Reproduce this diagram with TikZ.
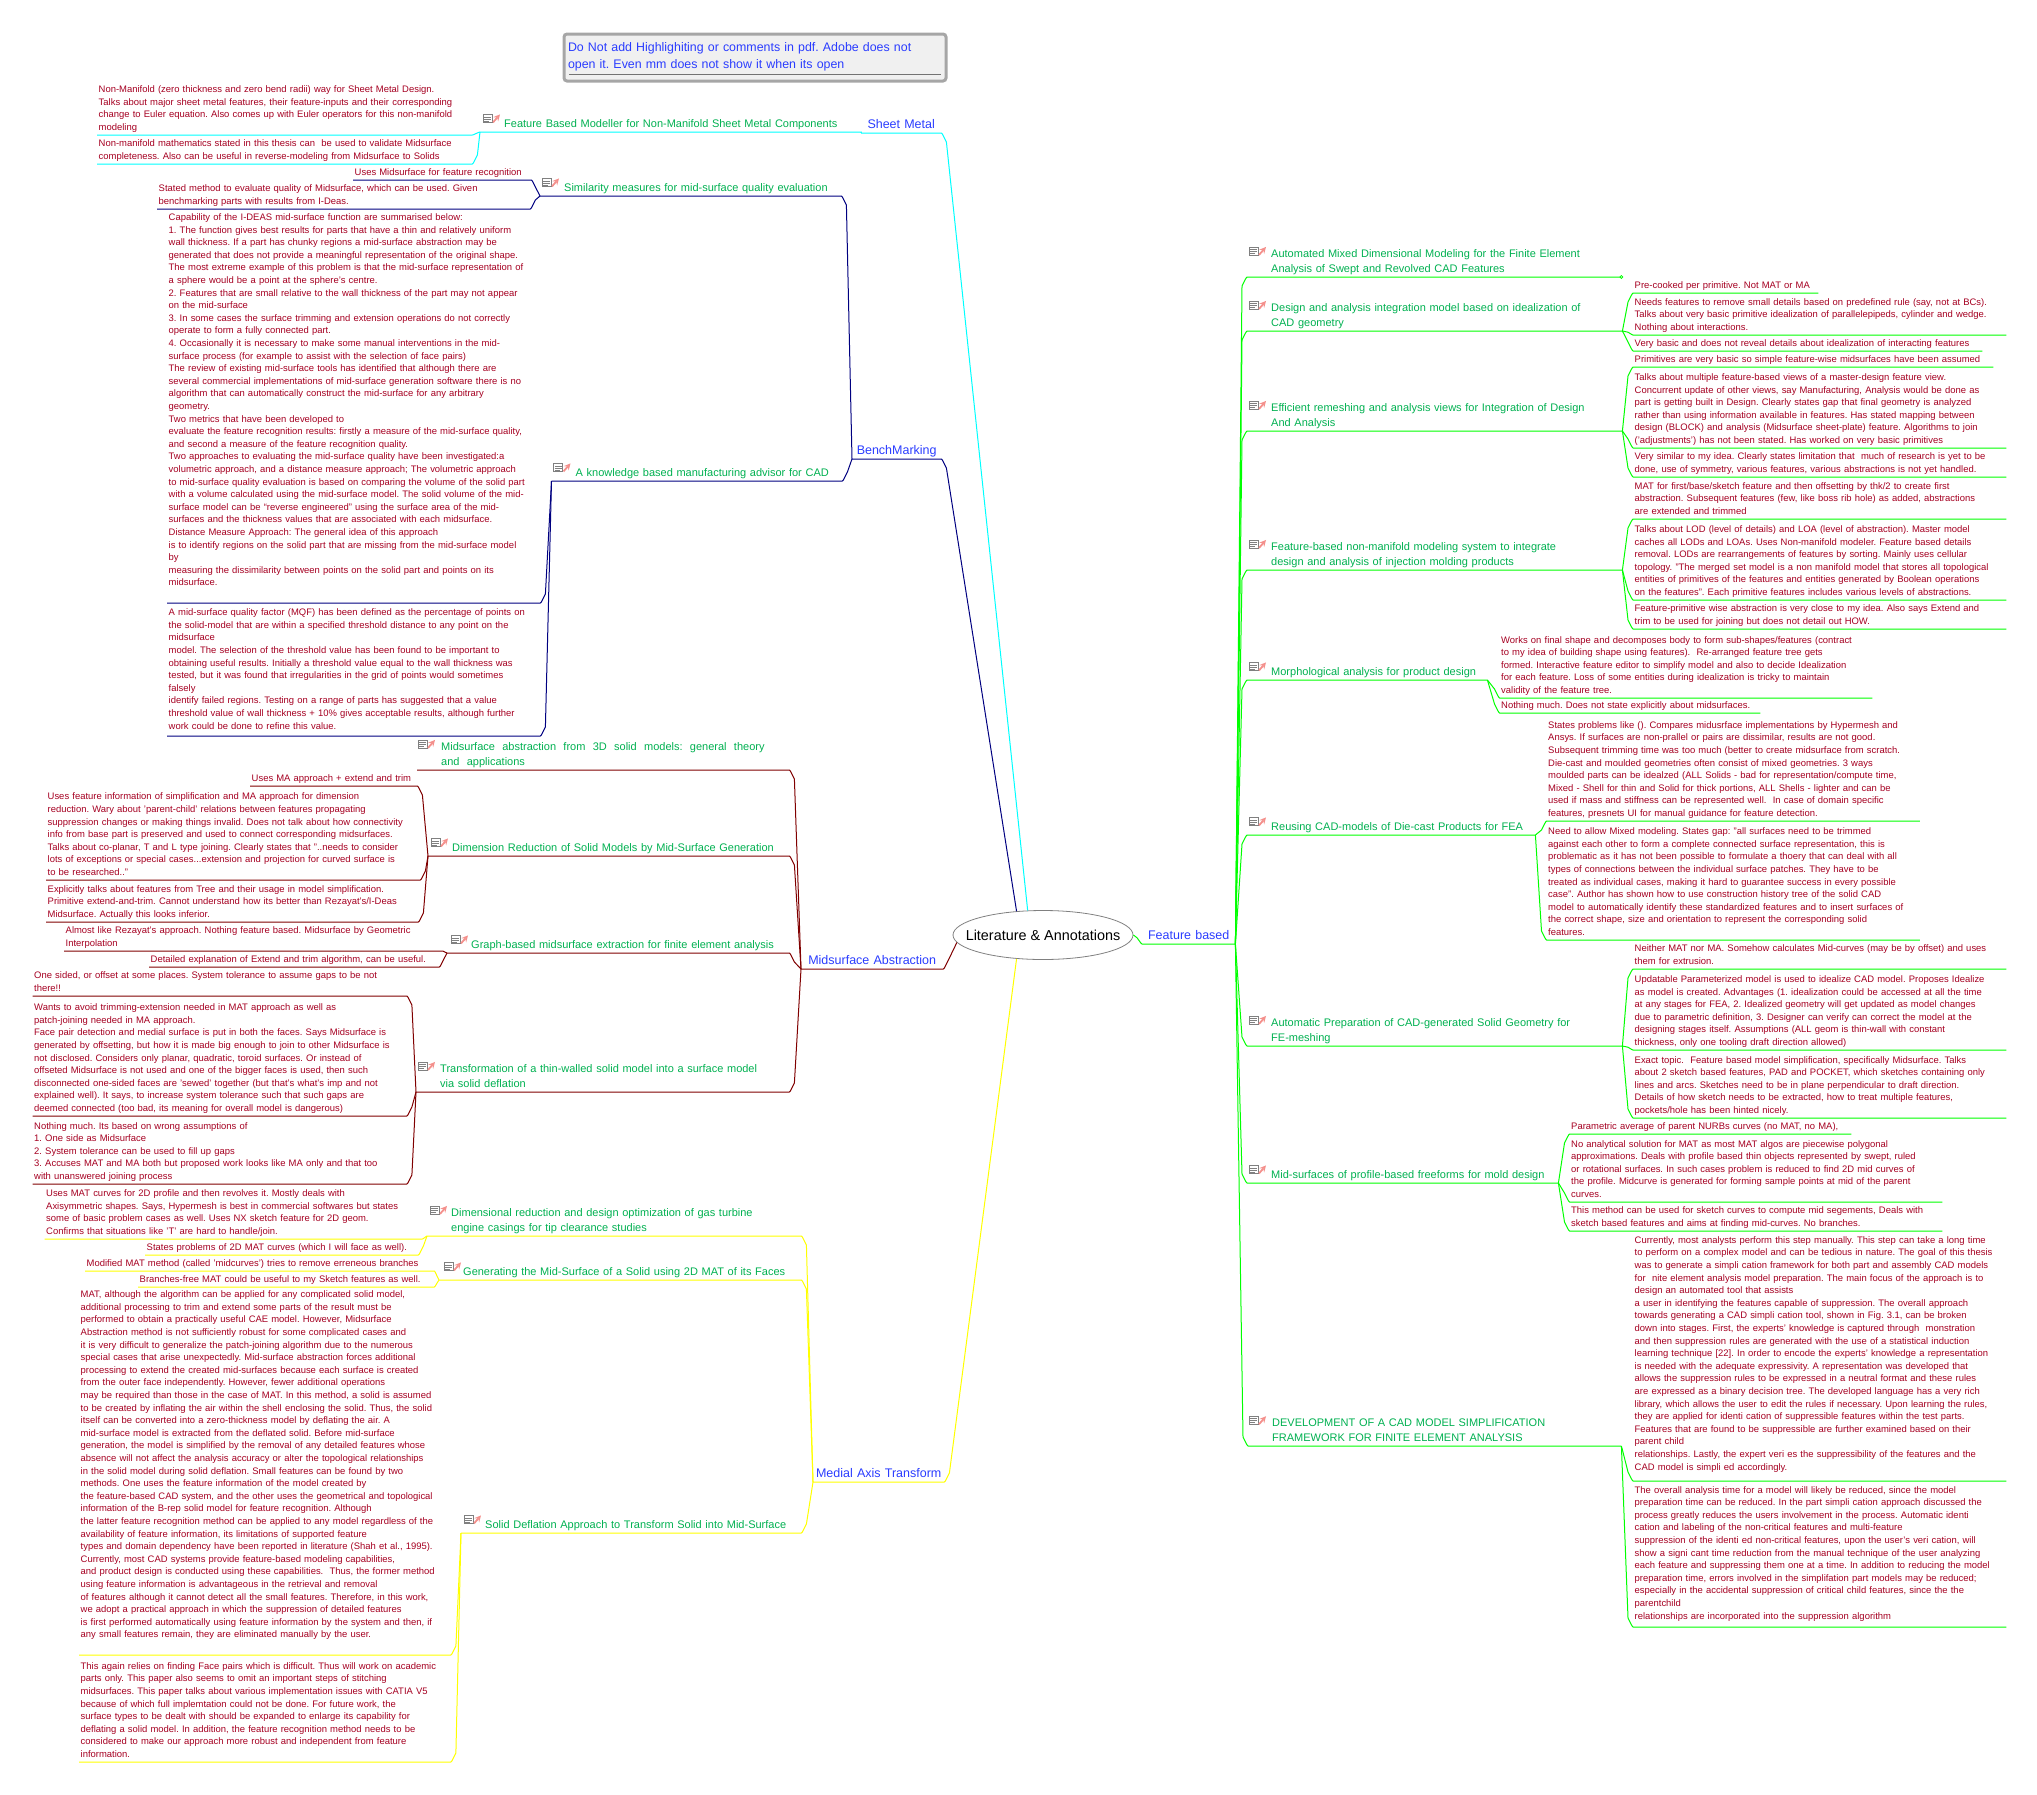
\documentclass[tikz,border=0pt]{standalone}
\usepackage{fontspec}
\setmainfont{Liberation Sans}
\frenchspacing
\usetikzlibrary{calc}
\usetikzlibrary{shapes.geometric}
\definecolor{leafred}{HTML}{A50021}
\definecolor{topicgreen}{HTML}{00B050}
\definecolor{branchblue}{HTML}{2A3CFF}
\definecolor{smline}{HTML}{00FFFF}
\definecolor{bmline}{HTML}{000080}
\definecolor{maline}{HTML}{800000}
\definecolor{mtline}{HTML}{FFFF00}
\definecolor{fbline}{HTML}{00FF00}
\definecolor{iconpink}{HTML}{F4908C}
\tikzset{
textbase/.style={anchor=south west, align=left, execute at end node=\strut},
leaf/.style={textbase, text width=#1pt-3pt, inner xsep=1.5pt, inner ysep=.5pt, text=leafred, font=\fontsize{9.45}{12.6}\selectfont},
topic/.style={textbase, text width=#1pt, inner xsep=0pt, inner ysep=-.4pt, text=topicgreen, font=\fontsize{11}{15}\selectfont, execute at begin node={\leftskip=24pt\relax}},
branch/.style={anchor=south west, align=center, text width=#1pt, inner xsep=0pt, inner ysep=0pt, text=branchblue, font=\fontsize{12.5}{15}\selectfont, execute at end node=\strut},
root/.style={ellipse, draw=gray, fill=white, line width=.8pt, inner xsep=-14pt, inner ysep=0pt, minimum width=180pt, minimum height=49pt, font=\fontsize{14.4}{16}\selectfont},
memo/.style={anchor=north west, align=left, text width=374pt, inner xsep=4pt, inner ysep=6pt, fill=black!6, draw=black!35, line width=3pt, rounded corners=3pt, minimum height=47pt, text=branchblue, font=\fontsize{12.4}{17}\selectfont},
wire/.style={line width=1pt, line join=round},
link/.style={to path={let \p1=(\tikztostart), \p2=(\tikztotarget), \n1={min(5pt,abs(\x1-\x2)*.7)*sign(\x1-\x2)}, \n2={min(9pt,abs(\y1-\y2)*.7)*sign(\y1-\y2)} in -- ({\x2+\n1},{\y2+\n2}) .. controls ({\x2+\n1*.1},\y2) .. (\tikztotarget) \tikztonodes}},
noteicon/.pic={
\draw [black!50, fill=white, line width=.7pt] (0,0) rectangle (9,8);
\draw [black!50, line width=.5pt] (1,2.5) -- (8,2.5) (1,4.5) -- (8,4.5) (1,6.5) -- (6,6.5);
\draw [iconpink, line width=1.8pt, -stealth] (10,8) -- (17,0);
}
}
\begin{document}
\begin{tikzpicture}[x=1pt,y=-1pt]
\useasboundingbox (0,0) rectangle (2037,1794);

\node [memo] (memo) at (562.5,32.5) {Do Not add Highlighiting or comments in pdf. Adobe does not\\open it. Even mm does not show it when its open\par\vspace{2pt}};
\coordinate (memoL) at (569,74);
\coordinate (memoR) at (941,74);
\draw [black!55, line width=1pt] (memoL) -- (memoR);

\node [root] (root) at (1043,935) {Literature \& Annotations};

\node [branch=80] (sheet) at (861,133) {Sheet Metal};
\node [topic=381] (smA) at (480,132) {Feature Based Modeller for Non-Manifold Sheet Metal Components};
\node [leaf=375] (smNoteA) at (97,135) {Non-Manifold (zero thickness and zero bend radii) way for Sheet Metal Design.\\Talks about major sheet metal features, their feature-inputs and their corresponding\\change to Euler equation. Also comes up with Euler operators for this non-manifold\\modeling};
\node [leaf=375] (smNoteB) at (97,164) {Non-manifold mathematics stated in this thesis can~ be used to validate Midsurface\\completeness. Also can be useful in reverse-modeling from Midsurface to Solids};

\node [branch=89] (bench) at (852,459) {BenchMarking};
\node [topic=301] (bmA) at (540,196) {Similarity measures for mid-surface quality evaluation};
\node [leaf=178] (bmNoteA) at (353,180) {Uses Midsurface for feature recognition};
\node [leaf=373] (bmNoteB) at (157,209) {Stated method to evaluate quality of Midsurface, which can be used. Given\\benchmarking parts with results from I-Deas.};
\node [topic=290.5] (bmB) at (551.5,481) {A knowledge based manufacturing advisor for CAD};
\node [leaf=373] (kbNoteA) at (167,603) {Capability of the I-DEAS mid-surface function are summarised below:\\1. The function gives best results for parts that have a thin and relatively uniform\\wall thickness. If a part has chunky regions a mid-surface abstraction may be\\generated that does not provide a meaningful representation of the original shape.\\The most extreme example of this problem is that the mid-surface representation of\\a sphere would be a point at the sphere’s centre.\\2. Features that are small relative to the wall thickness of the part may not appear\\on the mid-surface\\3. In some cases the surface trimming and extension operations do not correctly\\operate to form a fully connected part.\\4. Occasionally it is necessary to make some manual interventions in the mid-\\surface process (for example to assist with the selection of face pairs)\\The review of existing mid-surface tools has identified that although there are\\several commercial implementations of mid-surface generation software there is no\\algorithm that can automatically construct the mid-surface for any arbitrary\\geometry.\\Two metrics that have been developed to\\evaluate the feature recognition results: firstly a measure of the mid-surface quality,\\and second a measure of the feature recognition quality.\\Two approaches to evaluating the mid-surface quality have been investigated:a\\volumetric approach, and a distance measure approach; The volumetric approach\\to mid-surface quality evaluation is based on comparing the volume of the solid part\\with a volume calculated using the mid-surface model. The solid volume of the mid-\\surface model can be “reverse engineered” using the surface area of the mid-\\surfaces and the thickness values that are associated with each midsurface.\\Distance Measure Approach: The general idea of this approach\\is to identify regions on the solid part that are missing from the mid-surface model\\by\\measuring the dissimilarity between points on the solid part and points on its\\midsurface.\\~};
\node [leaf=373, inner ysep=3pt] (kbNoteB) at (167,736) {A mid-surface quality factor (MQF) has been defined as the percentage of points on\\the solid-model that are within a specified threshold distance to any point on the\\midsurface\\model. The selection of the threshold value has been found to be important to\\obtaining useful results. Initially a threshold value equal to the wall thickness was\\tested, but it was found that irregularities in the grid of points would sometimes\\falsely\\identify failed regions. Testing on a range of parts has suggested that a value\\threshold value of wall thickness + 10\% gives acceptable results, although further\\work could be done to refine this value.};

\node [branch=142] (maMain) at (801,969) {Midsurface Abstraction};
\node [topic=372] (maA) at (417,770) {Midsurface\ \ abstraction\ \ from\ \ 3D\ \ solid\ \ models:\ \ general\ \ theory\\and\ \ applications};
\node [topic=361] (maB) at (428,856) {Dimension Reduction of Solid Models by Mid-Surface Generation};
\node [leaf=167] (dmNoteA) at (250,786) {Uses MA approach + extend and trim};
\node [leaf=374] (dmNoteB) at (46,880) {Uses feature information of simplification and MA approach for dimension\\reduction. Wary about 'parent-child' relations between features propagating\\suppression changes or making things invalid. Does not talk about how connectivity\\info from base part is preserved and used to connect corresponding midsurfaces.\\Talks about co-planar, T and L type joining. Clearly states that "..needs to consider\\lots of exceptions or special cases...extension and projection for curved surface is\\to be researched.."};
\node [leaf=372] (dmNoteC) at (46,922) {Explicitly talks about features from Tree and their usage in model simplification.\\Primitive extend-and-trim. Cannot understand how its better than Rezayat's/I-Deas\\Midsurface. Actually this looks inferior.};
\node [topic=342] (maC) at (447,953) {Graph-based midsurface extraction for finite element analysis};
\node [leaf=378] (grNoteA) at (64,951) {Almost like Rezayat's approach. Nothing feature based. Midsurface by Geometric\\Interpolation};
\node [leaf=290] (grNoteB) at (149,967) {Detailed explanation of Extend and trim algorithm, can be useful.};
\node [topic=373] (maD) at (416,1092) {Transformation of a thin-walled solid model into a surface model\\via solid deflation};
\node [leaf=374] (trNoteA) at (32.5,996) {One sided, or offset at some places. System tolerance to assume gaps to be not\\there!!};
\node [leaf=374] (trNoteB) at (32.5,1116) {Wants to avoid trimming-extension needed in MAT approach as well as\\patch-joining needed in MA approach.\\Face pair detection and medial surface is put in both the faces. Says Midsurface is\\generated by offsetting, but how it is made big enough to join to other Midsurface is\\not disclosed. Considers only planar, quadratic, toroid surfaces. Or instead of\\offseted Midsurface is not used and one of the bigger faces is used, then such\\disconnected one-sided faces are 'sewed' together (but that's what's imp and not\\explained well). It says, to increase system tolerance such that such gaps are\\deemed connected (too bad, its meaning for overall model is dangerous)};
\node [leaf=374] (trNoteC) at (32.5,1184) {Nothing much. Its based on wrong assumptions of\\1. One side as Midsurface\\2. System tolerance can be used to fill up gaps\\3. Accuses MAT and MA both but proposed work looks like MA only and that too\\with unanswered joining process};

\node [branch=131] (mtMain) at (813,1482) {Medial Axis Transform};
\node [topic=374] (mtA) at (427,1236) {Dimensional reduction and design optimization of gas turbine\\engine casings for tip clearance studies};
\node [leaf=377.5] (dgNoteA) at (44.5,1239) {Uses MAT curves for 2D profile and then revolves it. Mostly deals with\\Axisymmetric shapes. Says, Hypermesh is best in commercial softwares but states\\some of basic problem cases as well. Uses NX sketch feature for 2D geom.\\Confirms that situations like 'T' are hard to handle/join.};
\node [leaf=273] (dgNoteB) at (145,1255) {States problems of 2D MAT curves (which I will face as well).};
\node [topic=362] (mtB) at (439,1280) {Generating the Mid-Surface of a Solid using 2D MAT of its Faces};
\node [leaf=349] (gsNoteA) at (85,1271) {Modified MAT method (called 'midcurves') tries to remove erreneous branches};
\node [leaf=296] (gsNoteB) at (138,1287) {Branches-free MAT could be useful to my Sketch features as well.};
\node [topic=340] (mtC) at (461,1533) {Solid Deflation Approach to Transform Solid into Mid-Surface};
\node [leaf=371.5] (sdNoteA) at (79,1655) {MAT, although the algorithm can be applied for any complicated solid model,\\additional processing to trim and extend some parts of the result must be\\performed to obtain a practically useful CAE model. However, Midsurface\\Abstraction method is not sufficiently robust for some complicated cases and\\it is very difficult to generalize the patch-joining algorithm due to the numerous\\special cases that arise unexpectedly. Mid-surface abstraction forces additional\\processing to extend the created mid-surfaces because each surface is created\\from the outer face independently. However, fewer additional operations\\may be required than those in the case of MAT. In this method, a solid is assumed\\to be created by inflating the air within the shell enclosing the solid. Thus, the solid\\itself can be converted into a zero-thickness model by deflating the air. A\\mid-surface model is extracted from the deflated solid. Before mid-surface\\generation, the model is simplified by the removal of any detailed features whose\\absence will not affect the analysis accuracy or alter the topological relationships\\in the solid model during solid deflation. Small features can be found by two\\methods. One uses the feature information of the model created by\\the feature-based CAD system, and the other uses the geometrical and topological\\information of the B-rep solid model for feature recognition. Although\\the latter feature recognition method can be applied to any model regardless of the\\availability of feature information, its limitations of supported feature\\types and domain dependency have been reported in literature (Shah et al., 1995).\\Currently, most CAD systems provide feature-based modeling capabilities,\\and product design is conducted using these capabilities.~ Thus, the former method\\using feature information is advantageous in the retrieval and removal\\of features although it cannot detect all the small features. Therefore, in this work,\\we adopt a practical approach in which the suppression of detailed features\\is first performed automatically using feature information by the system and then, if\\any small features remain, they are eliminated manually by the user.\\~};
\node [leaf=371.5] (sdNoteB) at (79,1762) {This again relies on finding Face pairs which is difficult. Thus will work on academic\\parts only. This paper also seems to omit an important steps of stitching\\midsurfaces. This paper talks about various implementation issues with CATIA V5\\because of which full implemtation could not be done. For future work, the\\surface types to be dealt with should be expanded to enlarge its capability for\\deflating a solid model. In addition, the feature recognition method needs to be\\considered to make our approach more robust and independent from feature\\information.};

\node [branch=93] (feat) at (1142,944) {Feature based};
\node [topic=374] (fbA) at (1247,277) {Automated Mixed Dimensional Modeling for the Finite Element\\Analysis of Swept and Revolved CAD Features};
\node [circle, draw=fbline, fill=white, line width=.7pt, inner sep=0pt, minimum size=3pt] (fbAend) at (fbA.south east) {};
\node [topic=375] (fbB) at (1247,331) {Design and analysis integration model based on idealization of\\CAD geometry};
\node [leaf=185] (dbNoteA) at (1633,293) {Pre-cooked per primitive. Not MAT or MA};
\node [leaf=373] (dbNoteB) at (1633,335) {Needs features to remove small details based on predefined rule (say, not at BCs).\\Talks about very basic primitive idealization of parallelepipeds, cylinder and wedge.\\Nothing about interactions.};
\node [leaf=349] (dbNoteC) at (1633,351) {Very basic and does not reveal details about idealization of interacting features};
\node [topic=375] (fbC) at (1247,431) {Efficient remeshing and analysis views for Integration of Design\\And Analysis};
\node [leaf=360] (emNoteA) at (1633,367) {Primitives are very basic so simple feature-wise midsurfaces have been assumed};
\node [leaf=373] (emNoteB) at (1633,448) {Talks about multiple feature-based views of a master-design feature view.\\Concurrent update of other views, say Manufacturing, Analysis would be done as\\part is getting built in Design. Clearly states gap that final geometry is analyzed\\rather than using information available in features. Has stated mapping between\\design (BLOCK) and analysis (Midsurface sheet-plate) feature. Algorithms to join\\('adjustments') has not been stated. Has worked on very basic primitives};
\node [leaf=373] (emNoteC) at (1633,477) {Very similar to my idea. Clearly states limitation that~ much of research is yet to be\\done, use of symmetry, various features, various abstractions is not yet handled.};
\node [topic=375] (fbD) at (1247,570) {Feature-based non-manifold modeling system to integrate\\design and analysis of injection molding products};
\node [leaf=373] (nmNoteA) at (1633,519) {MAT for first/base/sketch feature and then offsetting by thk/2 to create first\\abstraction. Subsequent features (few, like boss rib hole) as added, abstractions\\are extended and trimmed};
\node [leaf=373] (nmNoteB) at (1633,600) {Talks about LOD (level of details) and LOA (level of abstraction). Master model\\caches all LODs and LOAs. Uses Non-manifold modeler. Feature based details\\removal. LODs are rearrangements of features by sorting. Mainly uses cellular\\topology. "The merged set model is a non manifold model that stores all topological\\entities of primitives of the features and entities generated by Boolean operations\\on the features". Each primitive features includes various levels of abstractions.};
\node [leaf=373] (nmNoteC) at (1633,629) {Feature-primitive wise abstraction is very close to my idea. Also says Extend and\\trim to be used for joining but does not detail out HOW.};
\node [topic=240] (fbE) at (1247,680) {Morphological analysis for product design};
\node [leaf=372.5] (maNoteA) at (1499.5,698) {Works on final shape and decomposes body to form sub-shapes/features (contract\\to my idea of building shape using features).~ Re-arranged feature tree gets\\formed. Interactive feature editor to simplify model and also to decide Idealization\\for each feature. Loss of some entities during idealization is tricky to maintain\\validity of the feature tree.};
\node [leaf=260.5] (maNoteB) at (1499.5,713) {Nothing much. Does not state explicitly about midsurfaces.};
\node [topic=288] (fbF) at (1247,835) {Reusing CAD-models of Die-cast Products for FEA};
\node [leaf=373] (rcNoteA) at (1546.5,821) {States problems like (). Compares midusrface implementations by Hypermesh and\\Ansys. If surfaces are non-prallel or pairs are dissimilar, results are not good.\\Subsequent trimming time was too much (better to create midsurface from scratch.\\Die-cast and moulded geometries often consist of mixed geometries. 3 ways\\moulded parts can be idealzed (ALL Solids - bad for representation/compute time,\\Mixed - Shell for thin and Solid for thick portions, ALL Shells - lighter and can be\\used if mass and stiffness can be represented well.~ In case of domain specific\\features, presnets UI for manual guidance for feature detection.};
\node [leaf=373] (rcNoteB) at (1546.5,940) {Need to allow Mixed modeling. States gap: "all surfaces need to be trimmed\\against each other to form a complete connected surface representation, this is\\problematic as it has not been possible to formulate a thoery that can deal with all\\types of connections between the individual surface patches. They have to be\\treated as individual cases, making it hard to guarantee success in every possible\\case". Author has shown how to use construction history tree of the solid CAD\\model to automatically identify these standardized features and to insert surfaces of\\the correct shape, size and orientation to represent the corresponding solid\\features.};
\node [topic=375] (fbG) at (1247,1046) {Automatic Preparation of CAD-generated Solid Geometry for\\FE-meshing};
\node [leaf=373] (apNoteA) at (1633,969) {Neither MAT nor MA. Somehow calculates Mid-curves (may be by offset) and uses\\them for extrusion.};
\node [leaf=373] (apNoteB) at (1633,1050) {Updatable Parameterized model is used to idealize CAD model. Proposes Idealize\\as model is created. Advantages (1. idealization could be accessed at all the time\\at any stages for FEA, 2. Idealized geometry will get updated as model changes\\due to parametric definition, 3. Designer can verify can correct the model at the\\designing stages itself. Assumptions (ALL geom is thin-wall with constant\\thickness, only one tooling draft direction allowed)};
\node [leaf=373] (apNoteC) at (1633,1118) {Exact topic.~ Feature based model simplification, specifically Midsurface. Talks\\about 2 sketch based features, PAD and POCKET, which sketches containing only\\lines and arcs. Sketches need to be in plane perpendicular to draft direction.\\Details of how sketch needs to be extracted, how to treat multiple features,\\pockets/hole has been hinted nicely.};
\node [topic=311] (fbH) at (1247,1183) {Mid-surfaces of profile-based freeforms for mold design};
\node [leaf=281.5] (pfNoteA) at (1569.5,1134) {Parametric average of parent NURBs curves (no MAT, no MA),};
\node [leaf=372.5] (pfNoteB) at (1569.5,1202) {No analytical solution for MAT as most MAT algos are piecewise polygonal\\approximations. Deals with profile based thin objects represented by swept, ruled\\or rotational surfaces. In such cases problem is reduced to find 2D mid curves of\\the profile. Midcurve is generated for forming sample points at mid of the parent\\curves.};
\node [leaf=372.5] (pfNoteC) at (1569.5,1231) {This method can be used for sketch curves to compute mid segements, Deals with\\sketch based features and aims at finding mid-curves. No branches.};
\node [topic=373] (fbI) at (1248,1446) {DEVELOPMENT OF A CAD MODEL SIMPLIFICATION\\FRAMEWORK FOR FINITE ELEMENT ANALYSIS};
\node [leaf=373, inner ysep=7pt] (csNoteA) at (1633,1481) {Currently, most analysts perform this step manually. This step can take a long time\\to perform on a complex model and can be tedious in nature. The goal of this thesis\\was to generate a simpli cation framework for both part and assembly CAD models\\for~ nite element analysis model preparation. The main focus of the approach is to\\design an automated tool that assists\\a user in identifying the features capable of suppression. The overall approach\\towards generating a CAD simpli cation tool, shown in Fig. 3.1, can be broken\\down into stages. First, the experts' knowledge is captured through~ monstration\\and then suppression rules are generated with the use of a statistical induction\\learning technique [22]. In order to encode the experts' knowledge a representation\\is needed with the adequate expressivity. A representation was developed that\\allows the suppression rules to be expressed in a neutral format and these rules\\are expressed as a binary decision tree. The developed language has a very rich\\library, which allows the user to edit the rules if necessary. Upon learning the rules,\\they are applied for identi cation of suppressible features within the test parts.\\Features that are found to be suppressible are further examined based on their\\parent child\\relationships. Lastly, the expert veri es the suppressibility of the features and the\\CAD model is simpli ed accordingly.};
\node [leaf=373, inner ysep=4pt] (csNoteB) at (1633,1627) {The overall analysis time for a model will likely be reduced, since the model\\preparation time can be reduced. In the part simpli cation approach discussed the\\process greatly reduces the users involvement in the process. Automatic identi\\cation and labeling of the non-critical features and multi-feature\\suppression of the identi ed non-critical features, upon the user's veri cation, will\\show a signi cant time reduction from the manual technique of the user analyzing\\each feature and suppressing them one at a time. In addition to reducing the model\\preparation time, errors involved in the simplifation part models may be reduced;\\especially in the accidental suppression of critical child features, since the the\\parentchild\\relationships are incorporated into the suppression algorithm};

\pic at ([xshift=3pt,yshift=3pt]smA.north west) {noteicon};
\pic at ([xshift=2pt,yshift=3pt]bmA.north west) {noteicon};
\pic at ([xshift=2pt,yshift=3pt]bmB.north west) {noteicon};
\pic at ([xshift=1pt,yshift=3pt]maA.north west) {noteicon};
\pic at ([xshift=3pt,yshift=3pt]maB.north west) {noteicon};
\pic at ([xshift=4pt,yshift=3pt]maC.north west) {noteicon};
\pic at ([xshift=2pt,yshift=3pt]maD.north west) {noteicon};
\pic at ([xshift=3pt,yshift=3pt]mtA.north west) {noteicon};
\pic at ([xshift=5pt,yshift=3pt]mtB.north west) {noteicon};
\pic at ([xshift=3pt,yshift=3pt]mtC.north west) {noteicon};
\pic at ([xshift=2pt,yshift=3pt]fbA.north west) {noteicon};
\pic at ([xshift=2pt,yshift=3pt]fbB.north west) {noteicon};
\pic at ([xshift=2pt,yshift=3pt]fbC.north west) {noteicon};
\pic at ([xshift=2pt,yshift=3pt]fbD.north west) {noteicon};
\pic at ([xshift=2pt,yshift=3pt]fbE.north west) {noteicon};
\pic at ([xshift=2pt,yshift=3pt]fbF.north west) {noteicon};
\pic at ([xshift=2pt,yshift=3pt]fbG.north west) {noteicon};
\pic at ([xshift=2pt,yshift=3pt]fbH.north west) {noteicon};
\pic at ([xshift=1pt,yshift=3pt]fbI.north west) {noteicon};

\draw [wire, smline] (root.122) to[link] (sheet.south east) -- (sheet.south west);
\draw [wire, smline] (sheet.south west) to[link] (smA.south east) -- (smA.south west);
\draw [wire, smline] (smA.south west) to[link] (smNoteA.south east) -- (smNoteA.south west);
\draw [wire, smline] (smA.south west) to[link] (smNoteB.south east) -- (smNoteB.south west);

\draw [wire, bmline] (root.138) to[link] (bench.south east) -- (bench.south west);
\draw [wire, bmline] (bench.south west) to[link] (bmA.south east) -- (bmA.south west);
\draw [wire, bmline] (bmA.south west) to[link] (bmNoteA.south east) -- (bmNoteA.south west);
\draw [wire, bmline] (bmA.south west) to[link] (bmNoteB.south east) -- (bmNoteB.south west);
\draw [wire, bmline] (bench.south west) to[link] (bmB.south east) -- (bmB.south west);
\draw [wire, bmline] (bmB.south west) to[link] (kbNoteA.south east) -- (kbNoteA.south west);
\draw [wire, bmline] (bmB.south west) to[link] (kbNoteB.south east) -- (kbNoteB.south west);

\draw [wire, maline] (root.185) to[link] (maMain.south east) -- (maMain.south west);
\draw [wire, maline] (maMain.south west) to[link] (maA.south east) -- (maA.south west);
\draw [wire, maline] (maMain.south west) to[link] (maB.south east) -- (maB.south west);
\draw [wire, maline] (maB.south west) to[link] (dmNoteA.south east) -- (dmNoteA.south west);
\draw [wire, maline] (maB.south west) to[link] (dmNoteB.south east) -- (dmNoteB.south west);
\draw [wire, maline] (maB.south west) to[link] (dmNoteC.south east) -- (dmNoteC.south west);
\draw [wire, maline] (maMain.south west) to[link] (maC.south east) -- (maC.south west);
\draw [wire, maline] (maC.south west) to[link] (grNoteA.south east) -- (grNoteA.south west);
\draw [wire, maline] (maC.south west) to[link] (grNoteB.south east) -- (grNoteB.south west);
\draw [wire, maline] (maMain.south west) to[link] (maD.south east) -- (maD.south west);
\draw [wire, maline] (maD.south west) to[link] (trNoteA.south east) -- (trNoteA.south west);
\draw [wire, maline] (maD.south west) to[link] (trNoteB.south east) -- (trNoteB.south west);
\draw [wire, maline] (maD.south west) to[link] (trNoteC.south east) -- (trNoteC.south west);

\draw [wire, mtline] (root.222) to[link] (mtMain.south east) -- (mtMain.south west);
\draw [wire, mtline] (mtMain.south west) to[link] (mtA.south east) -- (mtA.south west);
\draw [wire, mtline] (mtA.south west) to[link] (dgNoteA.south east) -- (dgNoteA.south west);
\draw [wire, mtline] (mtA.south west) to[link] (dgNoteB.south east) -- (dgNoteB.south west);
\draw [wire, mtline] (mtMain.south west) to[link] (mtB.south east) -- (mtB.south west);
\draw [wire, mtline] (mtB.south west) to[link] (gsNoteA.south east) -- (gsNoteA.south west);
\draw [wire, mtline] (mtB.south west) to[link] (gsNoteB.south east) -- (gsNoteB.south west);
\draw [wire, mtline] (mtMain.south west) to[link] (mtC.south east) -- (mtC.south west);
\draw [wire, mtline] (mtC.south west) to[link] (sdNoteA.south east) -- (sdNoteA.south west);
\draw [wire, mtline] (mtC.south west) to[link] (sdNoteB.south east) -- (sdNoteB.south west);

\draw [wire, fbline] (root.east) to[link] (feat.south west) -- (feat.south east);
\draw [wire, fbline] (feat.south east) to[link] (fbA.south west) -- (fbA.south east);
\draw [wire, fbline] (feat.south east) to[link] (fbB.south west) -- (fbB.south east);
\draw [wire, fbline] (fbB.south east) to[link] (dbNoteA.south west) -- (dbNoteA.south east);
\draw [wire, fbline] (fbB.south east) to[link] (dbNoteB.south west) -- (dbNoteB.south east);
\draw [wire, fbline] (fbB.south east) to[link] (dbNoteC.south west) -- (dbNoteC.south east);
\draw [wire, fbline] (feat.south east) to[link] (fbC.south west) -- (fbC.south east);
\draw [wire, fbline] (fbC.south east) to[link] (emNoteA.south west) -- (emNoteA.south east);
\draw [wire, fbline] (fbC.south east) to[link] (emNoteB.south west) -- (emNoteB.south east);
\draw [wire, fbline] (fbC.south east) to[link] (emNoteC.south west) -- (emNoteC.south east);
\draw [wire, fbline] (feat.south east) to[link] (fbD.south west) -- (fbD.south east);
\draw [wire, fbline] (fbD.south east) to[link] (nmNoteA.south west) -- (nmNoteA.south east);
\draw [wire, fbline] (fbD.south east) to[link] (nmNoteB.south west) -- (nmNoteB.south east);
\draw [wire, fbline] (fbD.south east) to[link] (nmNoteC.south west) -- (nmNoteC.south east);
\draw [wire, fbline] (feat.south east) to[link] (fbE.south west) -- (fbE.south east);
\draw [wire, fbline] (fbE.south east) to[link] (maNoteA.south west) -- (maNoteA.south east);
\draw [wire, fbline] (fbE.south east) to[link] (maNoteB.south west) -- (maNoteB.south east);
\draw [wire, fbline] (feat.south east) to[link] (fbF.south west) -- (fbF.south east);
\draw [wire, fbline] (fbF.south east) to[link] (rcNoteA.south west) -- (rcNoteA.south east);
\draw [wire, fbline] (fbF.south east) to[link] (rcNoteB.south west) -- (rcNoteB.south east);
\draw [wire, fbline] (feat.south east) to[link] (fbG.south west) -- (fbG.south east);
\draw [wire, fbline] (fbG.south east) to[link] (apNoteA.south west) -- (apNoteA.south east);
\draw [wire, fbline] (fbG.south east) to[link] (apNoteB.south west) -- (apNoteB.south east);
\draw [wire, fbline] (fbG.south east) to[link] (apNoteC.south west) -- (apNoteC.south east);
\draw [wire, fbline] (feat.south east) to[link] (fbH.south west) -- (fbH.south east);
\draw [wire, fbline] (fbH.south east) to[link] (pfNoteA.south west) -- (pfNoteA.south east);
\draw [wire, fbline] (fbH.south east) to[link] (pfNoteB.south west) -- (pfNoteB.south east);
\draw [wire, fbline] (fbH.south east) to[link] (pfNoteC.south west) -- (pfNoteC.south east);
\draw [wire, fbline] (feat.south east) to[link] (fbI.south west) -- (fbI.south east);
\draw [wire, fbline] (fbI.south east) to[link] (csNoteA.south west) -- (csNoteA.south east);
\draw [wire, fbline] (fbI.south east) to[link] (csNoteB.south west) -- (csNoteB.south east);
\end{tikzpicture}
\end{document}
